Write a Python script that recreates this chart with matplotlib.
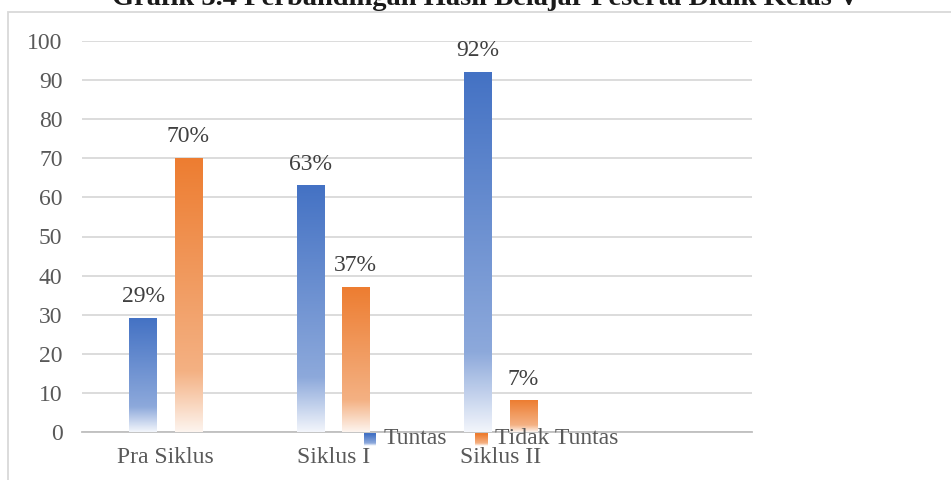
import numpy as np
import matplotlib
matplotlib.use("Agg")
import matplotlib.pyplot as plt
from matplotlib.patches import Rectangle
from matplotlib.colors import to_rgb
from matplotlib.legend_handler import HandlerBase

# data
kategori = ["Pra Siklus", "Siklus I", "Siklus II"]
tuntas = [29, 63, 92]
tidak_tuntas = [70, 37, 8]
label_tuntas = ["29%", "63%", "92%"]
label_tidak = ["70%", "37%", "7%"]
judul = "Grafik 3.4 Perbandingan Hasil Belajar Peserta Didik Kelas V"

BIRU = ["#4472C4", "#8DA9DB", "#F2F5FB"]
ORANYE = ["#ED7D31", "#F4B183", "#FDF4EE"]

plt.rcParams["font.family"] = ["Liberation Serif", "DejaVu Serif"]


def gradien(warna, n=200):
    # top -> bottom, stop kedua di 78%
    t = np.linspace(0, 1, n)
    stops = [0, 0.78, 1]
    rgb = np.array([to_rgb(c) for c in warna])
    kol = np.stack([np.interp(t, stops, rgb[:, i]) for i in range(3)], axis=1)
    return kol.reshape(n, 1, 3)


class HandlerGradien(HandlerBase):
    def __init__(self, warna):
        super().__init__()
        self.warna = warna

    def create_artists(self, legend, orig, xd, yd, w, h, fs, trans):
        kol = gradien(self.warna, 12)[:, 0, :]
        n = len(kol)
        out = []
        for i, c in enumerate(kol):
            y = yd + h - (i + 1) * h / n
            out.append(Rectangle((xd, y), w, h / n + 0.1, facecolor=c,
                                 edgecolor="none", transform=trans))
        return out


fig = plt.figure(figsize=(9.51, 4.8), dpi=100)
ax = fig.add_axes([82 / 951, 1 - 432 / 480, 670 / 951, 391 / 480])

x = np.arange(len(kategori))
lebar = 0.165
geser = 0.135
bar1 = ax.bar(x - geser, tuntas, lebar, color="none", label="Tuntas")
bar2 = ax.bar(x + geser, tidak_tuntas, lebar, color="none", label="Tidak Tuntas")

for bars, warna, lbls in [(bar1, BIRU, label_tuntas), (bar2, ORANYE, label_tidak)]:
    img = gradien(warna)
    for b, lb in zip(bars, lbls):
        x0, w, h = b.get_x(), b.get_width(), b.get_height()
        ax.imshow(img, extent=[x0, x0 + w, 0, h], aspect="auto",
                  interpolation="bilinear", zorder=3, origin="upper")
        ax.annotate(lb, (x0 + w / 2, h), xytext=(0, 8), textcoords="offset points",
                    ha="center", va="bottom", fontsize=17, color="#404040")

ax.set_xlim(-0.5, 3.5)
ax.set_ylim(0, 100)
ax.set_yticks(range(0, 101, 10))
ax.set_xticks(x)
ax.set_xticklabels(kategori)
ax.tick_params(axis="both", length=0, labelsize=17, labelcolor="#595959")
ax.tick_params(axis="x", pad=11)
ax.tick_params(axis="y", pad=14)
ax.grid(axis="y", color="#d9d9d9", linewidth=1.3, zorder=0)
ax.set_axisbelow(True)
for s in ["top", "right", "left"]:
    ax.spines[s].set_visible(False)
ax.spines["bottom"].set_color("#bfbfbf")
ax.spines["bottom"].set_linewidth(1.3)

ax.legend(handles=[bar1, bar2], ncol=2, frameon=False, fontsize=17,
          loc="center", bbox_to_anchor=(491 / 951, 1 - 439 / 480),
          bbox_transform=fig.transFigure, borderpad=0, handlelength=0.54,
          handleheight=0.46, handletextpad=0.3, columnspacing=1.2,
          labelcolor="#595959",
          handler_map={bar1: HandlerGradien(BIRU), bar2: HandlerGradien(ORANYE)})

fig.add_artist(Rectangle((8 / 951, -0.05), 1.1, 1 - 12 / 480 + 0.05,
                         transform=fig.transFigure, facecolor="none",
                         edgecolor="#d9d9d9", linewidth=1.3))
# judul terpotong di tepi atas, seperti di gambar asli
fig.text(486 / 951, 1 - 5 / 480, judul, ha="center", va="baseline",
         fontsize=20.5, fontweight="bold", color="#1a1a1a")

fig.savefig("out.png", dpi=100)
